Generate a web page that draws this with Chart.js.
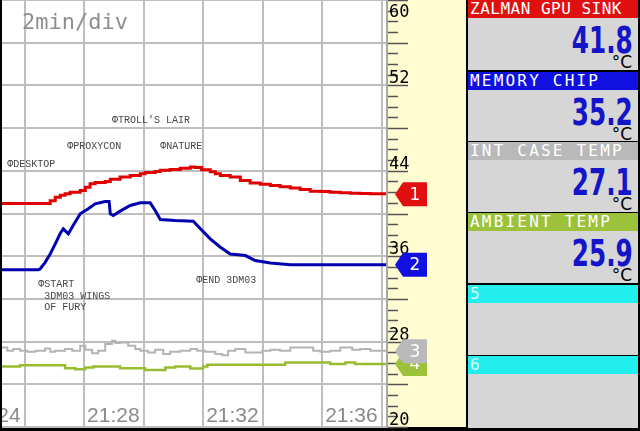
<!DOCTYPE html>
<html><head><meta charset="utf-8">
<script src="https://cdn.jsdelivr.net/npm/chart.js@4/dist/chart.umd.min.js"></script>
<style>
html,body{margin:0;padding:0;width:640px;height:431px;overflow:hidden;background:#000;}
#wrap{position:relative;width:640px;height:431px;}
#c{position:absolute;left:0;top:0;}
#perdiv{position:absolute;left:22px;top:9px;font:22px "DejaVu Sans Mono",monospace;line-height:26px;color:#8e8e8e;white-space:pre;}
.panel{position:absolute;left:468px;width:170px;background:#d6d6d6;overflow:hidden;}
.hdr{position:absolute;left:0;top:0;width:170px;height:18px;font:16px "DejaVu Sans Mono",monospace;line-height:18px;color:#fff;white-space:pre;padding-left:2px;box-sizing:border-box;letter-spacing:2.2px;}
.val{position:absolute;right:5px;top:20.6px;font:bold 38px "DejaVu Sans",sans-serif;line-height:38px;color:#1414c8;transform:scaleX(0.65);transform-origin:right center;white-space:pre;}
.unit{position:absolute;right:6px;top:53.5px;font:17px "DejaVu Sans",sans-serif;line-height:17px;color:#000;white-space:pre;}
</style></head><body>
<div id="wrap">
<canvas id="c" width="466" height="431"></canvas>
<div id="perdiv">2min/div</div>
<div id="panels"></div>
</div>
<script>
// ---- data (minutes after 21:00) ----
const redTimes  = [25.18,26.20,26.86,27.03,27.20,27.36,27.53,27.87,28.04,28.20,28.37,28.71,28.88,29.21,29.55,29.89,30.05,30.39,30.56,30.89,31.23,31.57,31.73,31.95,32.24,32.41,32.58,32.91,33.25,33.58,33.92,34.26,34.59,34.93,35.26,35.60,35.94,36.27,36.61,36.95,37.28,37.62,38.15];
const redValues = [40.91,40.94,40.94,41.20,41.53,41.70,41.85,42.00,42.16,42.45,42.79,42.90,43.00,43.20,43.41,43.55,43.73,43.85,43.94,44.05,44.13,44.25,44.35,44.30,44.10,43.90,43.73,43.55,43.41,43.10,42.85,42.75,42.63,42.50,42.38,42.25,42.09,42.05,42.00,41.95,41.90,41.88,41.85];

const blueTimes  = [25.18,26.46,26.52,26.69,26.86,27.03,27.20,27.30,27.47,27.63,27.87,28.14,28.37,28.71,28.84,28.88,28.98,29.21,29.55,29.89,30.22,30.39,30.56,31.06,31.67,31.90,32.24,32.58,32.91,33.42,33.75,34.26,34.93,38.15];
const blueValues = [34.74,34.74,34.80,35.43,36.21,37.15,38.15,38.56,38.09,38.87,39.97,40.44,40.91,41.13,41.13,39.97,39.81,40.22,40.75,41.00,41.00,40.28,39.44,39.34,39.28,38.60,37.62,36.84,36.21,36.06,35.59,35.37,35.21,35.20];

const grayTimes  = [25.18,25.42,25.62,25.85,26.09,26.36,26.69,26.86,27.03,27.36,27.60,27.87,28.04,28.27,28.47,28.71,28.94,29.05,29.21,29.48,29.72,29.89,30.15,30.39,30.66,30.89,31.23,31.57,31.80,32.07,32.41,32.64,32.84,33.08,33.42,33.99,34.26,34.59,34.93,35.70,35.94,36.27,36.61,37.01,37.28,37.62,37.95,38.15];
const grayValues = [27.30,27.45,27.14,27.30,27.14,27.04,27.14,27.35,27.04,27.14,27.30,27.14,27.61,27.23,26.92,27.14,27.77,28.08,27.86,27.92,27.61,27.30,27.14,26.98,27.23,26.83,27.04,27.14,27.30,27.14,27.04,26.83,26.73,27.14,27.30,26.98,27.14,27.23,27.14,27.45,27.14,27.04,27.14,27.45,27.23,27.30,27.14,27.14];

const greenTimes  = [25.18,25.85,27.36,27.70,28.04,28.31,29.21,30.05,30.73,31.06,31.57,32.00,32.14,34.76,36.27,36.78,37.11,37.35,38.15];
const greenValues = [25.57,25.66,25.79,25.51,25.42,25.57,25.66,25.51,25.35,25.57,25.66,25.48,25.66,25.82,26.04,25.89,26.04,25.89,25.89];

const channelNames  = ["ZALMAN GPU SINK","MEMORY CHIP","INT CASE TEMP","AMBIENT TEMP","5","6"];
const channelColors = ["#e01010","#1010e0","#b9b9b9","#9cc23c","#22eeee","#22eeee"];
const readouts      = ["41.8","35.2","27.1","25.9"];
const readoutValues = [41.8,35.2,27.1,25.9];

const xGridMinutes  = [26,28,30,32,34,36,38];
const xLabelMinutes = [24,28,32,36];
const xTickLabels   = ["21:24","21:28","21:32","21:36"];
const yGridValues   = [20,24,28,32,36,40,44,48,52,56,60];
const yLabelValues  = [20,28,36,44,52,60];

const eventNames  = ["\u03A6DESKTOP","\u03A6PROXYCON","\u03A6TROLL'S LAIR","\u03A6NATURE","\u03A6START","3DM03 WINGS","OF FURY","\u03A6END 3DM03"];
const eventTimes  = [25.42,27.43,28.94,30.56,26.46,26.66,26.66,31.77];
const eventLevels = [44.6,46.3,48.7,46.3,33.4,32.2,31.2,33.7];

// ---- panels (HTML) ----
const panelTops = [0,72,142,213,285,356];
const panelHeights = [70,69,70,70,70,72];
const panelsEl = document.getElementById('panels');
channelNames.forEach((n,i)=>{
  const p = document.createElement('div');
  p.className='panel';
  p.style.top = panelTops[i]+'px';
  p.style.height = panelHeights[i]+'px';
  const h = document.createElement('div');
  h.className='hdr';
  h.style.background = channelColors[i];
  if (i===0) h.style.letterSpacing='0.5px';
  if (i>=4) h.style.color='#dffcfc';
  h.textContent = n;
  p.appendChild(h);
  if (i < readouts.length) {
    const v = document.createElement('div'); v.className='val'; v.textContent = readouts[i]; p.appendChild(v);
    const u = document.createElement('div'); u.className='unit'; u.textContent = '\u00B0C'; p.appendChild(u);
  }
  panelsEl.appendChild(p);
});

const pts = (ts,vs)=>ts.map((t,i)=>({x:t,y:vs[i]}));

const bgPlugin = {
  id:'bg',
  beforeDraw(chart){
    const {ctx, chartArea:a, width, height} = chart;
    ctx.save();
    ctx.fillStyle='#000'; ctx.fillRect(0,0,width,height);
    ctx.fillStyle='#fff'; ctx.fillRect(a.left,0,a.right-a.left,a.bottom);
    ctx.fillStyle='#fffcd2'; ctx.fillRect(a.right,0,width-a.right,a.bottom);
    ctx.restore();
  },
  afterDraw(chart){
    const {ctx, chartArea:a} = chart;
    const xs = chart.scales.x, ys = chart.scales.y;
    ctx.save();
    // y tick marks
    ctx.strokeStyle='#555'; ctx.lineWidth=1.5;
    for (let v = ys.min; v <= ys.max; v++) {
      const p = Math.round(ys.getPixelForValue(v)) + 0.5;
      const len = (v % 4 === 0) ? 20 : 10;
      ctx.beginPath(); ctx.moveTo(a.right+1,p); ctx.lineTo(a.right+1+len,p); ctx.stroke();
    }
    // y labels
    ctx.fillStyle='#000'; ctx.font='17px "DejaVu Sans Mono"'; ctx.textAlign='left'; ctx.textBaseline='alphabetic';
    yLabelValues.forEach(v=>{
      const p = ys.getPixelForValue(v);
      ctx.fillText(String(v), a.right+2, Math.max(p-2,17));
    });
    // x labels
    ctx.save();
    ctx.beginPath(); ctx.rect(a.left,0,a.right-a.left,a.bottom); ctx.clip();
    ctx.fillStyle='#8a8a8a'; ctx.font='21px "Liberation Sans"'; ctx.textAlign='left';
    xLabelMinutes.forEach((m,i)=>{
      ctx.fillText(xTickLabels[i], xs.getPixelForValue(m)+3, a.bottom-5);
    });
    // events
    ctx.fillStyle='#474747'; ctx.font='10px "Liberation Mono"'; ctx.textBaseline='middle';
    eventNames.forEach((n,i)=>{
      ctx.fillText(n, xs.getPixelForValue(eventTimes[i]), ys.getPixelForValue(eventLevels[i]));
    });
    ctx.restore();
    // channel flags
    for (let i = readoutValues.length-1; i >= 0; i--) {
      const y = ys.getPixelForValue(readoutValues[i]);
      const x0 = a.right+8;
      ctx.fillStyle = channelColors[i];
      ctx.beginPath();
      ctx.moveTo(x0,y); ctx.lineTo(x0+8,y-12); ctx.lineTo(x0+32,y-12); ctx.lineTo(x0+32,y+12); ctx.lineTo(x0+8,y+12); ctx.closePath();
      ctx.fill();
      ctx.fillStyle='#fff'; ctx.font='17px "DejaVu Sans"'; ctx.textAlign='center'; ctx.textBaseline='middle';
      ctx.fillText(String(i+1), x0+20, y+1);
    }
    ctx.restore();
  }
};

new Chart(document.getElementById('c'), {
  type:'line',
  data:{datasets:[
    {data:pts(grayTimes,grayValues), borderColor:'#b4b4b4', borderWidth:2, stepped:'after'},
    {data:pts(greenTimes,greenValues), borderColor:'#98bc30', borderWidth:2.5, stepped:'after'},
    {data:pts(blueTimes,blueValues), borderColor:'#0000b0', borderWidth:3},
    {data:pts(redTimes,redValues), borderColor:'#e00000', borderWidth:3, stepped:'after'}
  ]},
  options:{
    responsive:false, animation:false, devicePixelRatio:1,
    layout:{padding:{left:2,right:0,top:0,bottom:4}},
    elements:{point:{radius:0}, line:{tension:0, fill:false}},
    plugins:{legend:{display:false}, tooltip:{enabled:false}},
    events:[],
    scales:{
      x:{type:'linear', min:25.24, max:38.18, position:'bottom',
         ticks:{display:false}, border:{display:false},
         grid:{color:'#bebebe', lineWidth:2, drawTicks:false},
         afterBuildTicks:s=>{s.ticks = xGridMinutes.map(v=>({value:v}));},
         afterFit:s=>{s.height=0;}},
      y:{type:'linear', min:20, max:60, position:'right',
         ticks:{display:false},
         border:{display:true, color:'#a8a8a8', width:2},
         grid:{color:'#bebebe', lineWidth:2, drawTicks:false},
         afterBuildTicks:s=>{s.ticks = yGridValues.map(v=>({value:v}));},
         afterFit:s=>{s.width=79;}}
    }
  },
  plugins:[bgPlugin]
});
</script>
</body></html>
